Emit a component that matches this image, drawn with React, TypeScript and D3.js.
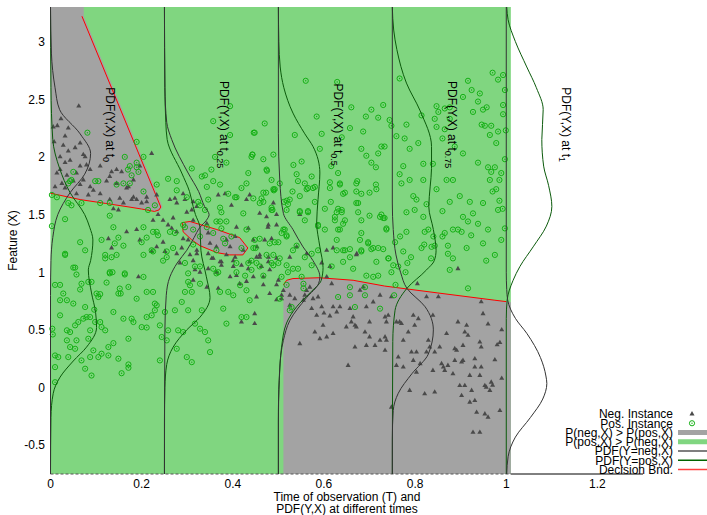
import React, { useEffect, useRef } from 'react';
import * as d3 from 'd3';

const TIMES = [0, 0.25, 0.5, 0.75, 1];
const TIME_LABELS = ['0', '0.25', '0.5', '0.75', '1'];
const X_TICKS = [0, 0.2, 0.4, 0.6, 0.8, 1, 1.2];
const Y_TICKS = [-0.5, 0, 0.5, 1, 1.5, 2, 2.5, 3];

// PDF curves: [feature, density] for every observation time
const PDF_NEG = [
  [[3.3, 0], [2.9, 0.002], [2.6, 0.01], [2.41, 0.02], [2.2, 0.065], [2.03, 0.088], [1.85, 0.075], [1.69, 0.043], [1.5, 0.016], [1.3, 0.005], [1.1, 0.001], [0.8, 0], [-0.75, 0]],
  [[3.3, 0], [2.6, 0.001], [2.3, 0.005], [2.15, 0.016], [1.86, 0.052], [1.7, 0.075], [1.57, 0.088], [1.5, 0.098], [1.45, 0.092], [1.39, 0.078], [1.3, 0.065], [1.19, 0.049], [1.08, 0.028], [0.96, 0.012], [0.8, 0.004], [0.5, 0.001], [-0.75, 0]],
  [[3.3, 0], [2.2, 0], [1.8, 0.003], [1.51, 0.011], [1.37, 0.032], [1.22, 0.054], [1.1, 0.076], [0.96, 0.091], [0.9, 0.088], [0.78, 0.062], [0.58, 0.025], [0.41, 0.011], [0.17, 0.003], [-0.2, 0], [-0.75, 0]],
  [[3.3, 0], [1.6, 0], [1.37, 0.002], [1.15, 0.008], [1.0, 0.018], [0.86, 0.032], [0.7, 0.072], [0.5, 0.09], [0.29, 0.079], [0.12, 0.043], [-0.05, 0.013], [-0.2, 0.002], [-0.45, 0], [-0.75, 0]],
  [[3.3, 0], [1.0, 0], [0.85, 0.001], [0.76, 0.003], [0.6, 0.02], [0.47, 0.045], [0.26, 0.075], [0.1, 0.087], [0.035, 0.089], [-0.1, 0.08], [-0.26, 0.053], [-0.43, 0.02], [-0.6, 0.004], [-0.75, 0.001]],
];
const PDF_POS = [
  [[3.3, 0], [2.6, 0.001], [2.15, 0.005], [1.9, 0.02], [1.69, 0.043], [1.5, 0.075], [1.39, 0.086], [1.28, 0.093], [1.1, 0.088], [1.02, 0.083], [0.82, 0.09], [0.65, 0.099], [0.52, 0.101], [0.35, 0.079], [0.23, 0.05], [0.09, 0.021], [-0.05, 0.006], [-0.26, 0.001], [-0.75, 0]],
  [[3.3, 0], [2.6, 0.001], [2.3, 0.003], [2.15, 0.006], [1.86, 0.038], [1.7, 0.055], [1.57, 0.063], [1.5, 0.068], [1.39, 0.078], [1.19, 0.08], [0.96, 0.092], [0.78, 0.1], [0.61, 0.078], [0.5, 0.049], [0.35, 0.019], [0.2, 0.005], [0, 0.001], [-0.3, 0], [-0.75, 0]],
  [[3.3, 0], [3.0, 0.001], [2.78, 0.004], [2.6, 0.012], [2.38, 0.032], [2.2, 0.058], [2.09, 0.076], [1.86, 0.091], [1.63, 0.087], [1.43, 0.084], [1.22, 0.091], [1.04, 0.098], [0.93, 0.094], [0.82, 0.069], [0.7, 0.04], [0.56, 0.018], [0.35, 0.007], [0.06, 0.002], [-0.3, 0], [-0.75, 0]],
  [[3.3, 0], [3.1, 0.003], [2.93, 0.01], [2.64, 0.031], [2.4, 0.061], [2.09, 0.086], [1.9, 0.086], [1.74, 0.083], [1.57, 0.08], [1.37, 0.09], [1.19, 0.096], [1.1, 0.092], [1.02, 0.075], [0.86, 0.032], [0.67, 0.006], [0.4, 0.001], [-0.75, 0]],
  [[3.3, 0.001], [3.19, 0.004], [3.0, 0.02], [2.78, 0.045], [2.6, 0.066], [2.41, 0.081], [2.15, 0.078], [1.92, 0.082], [1.75, 0.093], [1.57, 0.1], [1.4, 0.088], [1.22, 0.059], [1.05, 0.03], [0.93, 0.015], [0.76, 0.002], [0.6, 0], [-0.75, 0]],
];

// classification regions and decision boundaries, [time, feature]
const GRAY_TOP = [[0, 3.3], [0.073, 3.3], [0.073, 3.22], [0.246, 1.565], [0.238, 1.525], [0.2, 1.548], [0.17, 1.567], [0.12, 1.597], [0.065, 1.63], [0, 1.685]];
const GRAY_MID = [[0.289, 1.43], [0.291, 1.35], [0.31, 1.28], [0.328, 1.23], [0.365, 1.17], [0.393, 1.15], [0.422, 1.15], [0.433, 1.21], [0.415, 1.3], [0.365, 1.37], [0.306, 1.44]];
const GRAY_LOW = [[0.511, -0.75], [0.511, 0.89], [0.518, 0.93], [0.532, 0.945], [0.59, 0.952], [0.664, 0.93], [0.733, 0.88], [0.85, 0.82], [0.975, 0.757], [1.0, 0.745], [1.01, 0.74], [1.01, -0.75]];
const BND_TOP = [[0, 1.685], [0.065, 1.63], [0.12, 1.597], [0.17, 1.567], [0.2, 1.548], [0.228, 1.527], [0.238, 1.54], [0.242, 1.565], [0.069, 3.22]];
const BND_MID = [[0.289, 1.43], [0.291, 1.35], [0.31, 1.28], [0.328, 1.23], [0.365, 1.17], [0.393, 1.15], [0.422, 1.15], [0.433, 1.21], [0.415, 1.3], [0.365, 1.37], [0.306, 1.44], [0.289, 1.43]];
const BND_LOW = [[0.511, 0.89], [0.518, 0.93], [0.532, 0.945], [0.59, 0.952], [0.664, 0.93], [0.733, 0.88], [0.85, 0.82], [0.975, 0.757], [1.0, 0.745]];

const NEG_POINTS = [
  [0.028, 2.10], [0.054, 2.08], [0.072, 2.02], [0.021, 2.0], [0.043, 1.97], [0.032, 1.95], [0.065, 1.92], [0.079, 1.93], [0.021, 1.89], [0.014, 1.86], [0.036, 1.84], [0.057, 1.86], [0.087, 1.89], [0.072, 1.80], [0.05, 1.79], [0.065, 1.76], [0.087, 1.74], [0.094, 1.71], [0.109, 1.68], [0.083, 1.67], [0.025, 1.77], [0.032, 1.73], [0.01, 1.74], [0.057, 1.68], [0.109, 1.92], [0.134, 1.87], [0.145, 1.89], [0.156, 1.87], [0.13, 1.83], [0.123, 1.79], [0.145, 1.77], [0.167, 1.73], [0.182, 1.65], [0.152, 1.64], [0.13, 1.63], [0.16, 1.6], [0.189, 1.63], [0.2, 1.6], [0.211, 1.61], [0.138, 1.55], [0.149, 1.54], [0.167, 1.35], [0.189, 1.37], [0.196, 1.28], [0.127, 1.29], [0.134, 1.21], [0.062, 2.44], [0.023, 2.33], [0.006, 2.26], [0.015, 2.27], [0.039, 2.25], [0.032, 2.18], [0.008, 2.13], [0.065, 2.12], [0.076, 2.0], [0.039, 2.05], [0.222, 2.03], [0.196, 1.92], [0.182, 1.8], [0.171, 1.74], [0.211, 1.65], [0.178, 1.63], [0.233, 1.67],
  [0.262, 1.63], [0.273, 1.64], [0.277, 1.60], [0.291, 1.68], [0.295, 1.63], [0.313, 1.61], [0.321, 1.57], [0.31, 1.54], [0.299, 1.52], [0.368, 1.67], [0.383, 1.68], [0.397, 1.58], [0.43, 1.63], [0.437, 1.67], [0.489, 1.6], [0.474, 1.48], [0.236, 1.5], [0.225, 1.45], [0.247, 1.45], [0.269, 1.47], [0.258, 1.41], [0.266, 1.38], [0.277, 1.35], [0.291, 1.29], [0.302, 1.28], [0.247, 1.26], [0.233, 1.22], [0.222, 1.18], [0.251, 1.18], [0.277, 1.16], [0.288, 1.21], [0.306, 1.15], [0.321, 1.19], [0.346, 1.16], [0.354, 1.12], [0.375, 1.09], [0.386, 1.15], [0.405, 1.13], [0.437, 1.09], [0.452, 1.13], [0.459, 1.15], [0.478, 1.13], [0.496, 1.12], [0.317, 1.02], [0.328, 1.0], [0.346, 1.03], [0.364, 1.0], [0.401, 1.05], [0.419, 1.06], [0.434, 1.03], [0.463, 1.05], [0.478, 1.09], [0.481, 1.02], [0.394, 0.96], [0.375, 1.06], [0.313, 1.1], [0.284, 1.08], [0.434, 1.38], [0.478, 1.41], [0.445, 1.28], [0.313, 1.45], [0.343, 1.42], [0.346, 1.34], [0.408, 1.39], [0.386, 1.28], [0.35, 1.25], [0.364, 1.22], [0.394, 1.22], [0.405, 1.31], [0.423, 1.19],
  [0.193, 0.96], [0.321, 1.16], [0.357, 1.12], [0.372, 1.09], [0.401, 1.10], [0.408, 0.97], [0.445, 0.96], [0.467, 0.96], [0.43, 0.92], [0.467, 0.89], [0.496, 0.89], [0.452, 0.785], [0.481, 0.815], [0.507, 0.8], [0.448, 0.64], [0.419, 0.568], [0.448, 0.554], [0.368, 0.86], [0.343, 0.87], [0.313, 0.93], [0.415, 0.9],
  [0.459, 1.51], [0.477, 1.39], [0.496, 1.5], [0.547, 1.5], [0.47, 1.28], [0.453, 1.22], [0.459, 1.13], [0.525, 1.13], [0.606, 1.19], [0.62, 1.21], [0.672, 1.16],
  [0.496, 1.41], [0.485, 1.29], [0.54, 1.22], [0.562, 1.16], [0.671, 1.15], [0.613, 1.05], [0.595, 1.08], [0.606, 0.96], [0.617, 0.90], [0.5, 0.93], [0.511, 0.84], [0.507, 0.77], [0.525, 0.80], [0.536, 0.77], [0.562, 0.84], [0.569, 0.87], [0.558, 0.80], [0.576, 0.77], [0.587, 0.785], [0.555, 0.757], [0.496, 0.76], [0.525, 0.713], [0.595, 0.70], [0.573, 0.684], [0.62, 0.70], [0.635, 0.70], [0.657, 0.684], [0.628, 0.655], [0.679, 0.843], [0.686, 0.872], [0.723, 0.80], [0.708, 0.742], [0.693, 0.70], [0.584, 0.626], [0.6, 0.645], [0.613, 0.62], [0.664, 0.612], [0.649, 0.525], [0.66, 0.568], [0.668, 0.539], [0.7, 0.568], [0.734, 0.612], [0.737, 0.568], [0.598, 0.539], [0.58, 0.481], [0.62, 0.467], [0.591, 0.423], [0.606, 0.438], [0.69, 0.481], [0.7, 0.438], [0.712, 0.365], [0.723, 0.409], [0.734, 0.438], [0.671, 0.525], [0.547, 0.38], [0.668, 0.351], [0.693, 0.365], [0.734, 0.322], [0.653, 0.191],
  [0.894, 1.03], [0.805, 0.90], [0.748, 0.786], [0.825, 0.786], [0.851, 0.786], [0.945, 0.743], [0.949, 0.64], [0.741, 0.626], [0.759, 0.568], [0.766, 0.568], [0.770, 0.554], [0.796, 0.626], [0.807, 0.597], [0.799, 0.539], [0.839, 0.626], [0.894, 0.568], [0.913, 0.539], [0.909, 0.481], [0.916, 0.452], [0.785, 0.481], [0.869, 0.467], [0.737, 0.409], [0.774, 0.409], [0.829, 0.409], [0.832, 0.351], [0.825, 0.307], [0.843, 0.307], [0.854, 0.351], [0.887, 0.336], [0.891, 0.322], [0.905, 0.365], [0.942, 0.394], [0.945, 0.351], [0.763, 0.264], [0.792, 0.307], [0.803, 0.307], [0.796, 0.235], [0.811, 0.206], [0.759, 0.191], [0.774, 0.177], [0.858, 0.206], [0.862, 0.177], [0.872, 0.191], [0.865, 0.148], [0.887, 0.235], [0.902, 0.220], [0.905, 0.235], [0.931, 0.249], [0.931, 0.177], [0.945, 0.177], [0.839, 0.148], [0.803, 0.133], [0.883, 0.119], [0.92, 0.104], [0.942, 0.104], [0.788, -0.026], [0.821, -0.055], [0.843, -0.04], [0.898, 0.017], [0.909, 0.017], [0.924, -0.026], [0.953, 0.017], [0.956, 0.003], [0.967, 0.046], [0.964, -0.026], [0.902, -0.07], [0.92, -0.128], [0.931, -0.113], [0.935, -0.215], [0.953, -0.229], [0.96, -0.258], [0.748, -0.171], [0.927, -0.389], [0.942, -0.389],
  [0.99, 0.08], [0.986, -0.2], [0.97, 0.02], [0.975, 0.24], [0.98, 0.37], [0.99, 0.5], [0.986, 0.39], [0.96, 0.55],
];

const POS_POINTS = [
  [0.032, 1.16], [0.054, 1.04], [0.057, 0.98], [0.01, 0.89], [0.021, 0.89], [0.028, 0.815], [0.021, 0.757], [0.036, 0.757], [0.05, 0.728], [0.065, 0.85], [0.068, 0.90], [0.09, 0.916], [0.083, 0.916], [0.101, 0.815], [0.105, 0.785], [0.109, 0.81], [0.123, 0.91], [0.13, 0.99], [0.136, 1.0], [0.163, 0.98], [0.171, 0.872], [0.152, 0.858], [0.149, 0.815], [0.154, 0.815], [0.189, 0.77], [0.204, 0.959], [0.211, 0.829], [0.225, 0.829], [0.229, 0.728], [0.233, 0.713], [0.021, 0.626], [0.036, 0.496], [0.043, 0.481], [0.054, 0.539], [0.057, 0.409], [0.061, 0.568], [0.072, 0.597], [0.076, 0.698], [0.079, 0.611], [0.087, 0.611], [0.096, 0.675], [0.087, 0.496], [0.083, 0.423], [0.098, 0.568], [0.109, 0.568], [0.112, 0.524], [0.12, 0.496], [0.138, 0.655], [0.16, 0.597], [0.171, 0.423], [0.178, 0.597], [0.182, 0.568], [0.2, 0.524], [0.211, 0.611], [0.211, 0.52], [0.222, 0.626], [0.229, 0.67], [0.24, 0.539], [0.01, 0.278], [0.017, 0.264], [0.036, 0.409], [0.039, 0.264], [0.043, 0.351], [0.054, 0.336], [0.068, 0.235], [0.076, 0.163], [0.087, 0.264], [0.094, 0.322], [0.105, 0.264], [0.112, 0.293], [0.127, 0.351], [0.127, 0.278], [0.138, 0.385], [0.149, 0.25], [0.171, 0.2], [0.171, 0.171], [0.156, 0.124], [0.09, 0.104], [0.01, 0.177], [0.01, 0.046], [0.004, 0.51], [0.005, 0.46], [0.244, 0.438], [0.24, 0.235], [0.251, 0.655], [0.255, 0.409], [0.258, 0.496], [0.277, 0.336], [0.273, 0.67], [0.28, 0.496], [0.288, 0.742], [0.291, 0.481], [0.295, 0.829], [0.302, 0.916], [0.306, 0.887], [0.31, 0.829], [0.302, 0.67], [0.317, 0.554], [0.328, 0.90], [0.332, 0.67], [0.328, 0.51], [0.339, 0.481], [0.346, 0.409], [0.35, 0.307], [0.299, 0.264], [0.31, 0.22], [0.357, 1.03], [0.368, 1.0], [0.372, 0.829], [0.379, 0.684], [0.39, 0.829], [0.401, 0.8], [0.416, 0.887], [0.419, 0.611], [0.43, 0.611], [0.437, 0.757], [0.43, 0.843], [0.386, 0.554], [0.441, 1.02], [0.459, 1.05], [0.474, 1.15], [0.489, 1.06], [0.5, 1.08], [0.518, 1.06], [0.529, 0.698], [0.328, 1.05], [0.295, 1.08], [0.255, 1.18], [0.225, 1.18], [0.204, 1.15], [0.145, 1.15], [0.12, 1.15],
  [0.189, 2.13], [0.163, 2.0], [0.174, 1.92], [0.189, 1.91], [0.193, 1.87], [0.178, 1.84], [0.05, 1.87], [0.046, 1.80], [0.039, 1.77], [0.098, 1.79], [0.105, 1.79], [0.145, 1.76], [0.16, 1.77], [0.174, 1.77], [0.204, 1.70], [0.003, 1.67], [0.014, 1.65], [0.039, 1.60], [0.046, 1.58], [0.068, 1.60], [0.109, 1.60], [0.13, 1.60], [0.214, 1.54], [0.032, 1.46], [0.13, 1.49], [0.003, 1.40], [0.065, 1.26], [0.138, 1.39], [0.149, 1.30], [0.16, 1.23], [0.141, 1.25], [0.032, 1.15], [0.076, 1.19], [0.12, 1.12], [0.134, 1.13], [0.112, 1.28], [0.05, 1.04], [0.13, 1.00], [0.163, 0.99], [0.204, 1.39], [0.211, 1.30], [0.2, 1.26],
  [0.081, 2.21], [0.189, 1.95], [0.204, 2.0], [0.17, 1.89], [0.043, 1.79],
  [0.394, 2.44], [0.357, 2.31], [0.394, 2.19], [0.386, 1.95], [0.353, 1.89], [0.332, 1.83], [0.299, 1.65], [0.343, 1.74], [0.357, 1.79], [0.372, 1.76], [0.39, 1.68], [0.405, 1.65], [0.419, 1.73], [0.43, 1.77], [0.445, 1.64], [0.434, 1.86], [0.441, 2.0], [0.448, 2.21], [0.346, 1.63], [0.328, 1.58], [0.277, 1.71], [0.295, 1.39], [0.313, 1.37], [0.343, 1.39], [0.372, 1.44], [0.386, 1.44], [0.357, 1.34], [0.397, 1.31], [0.43, 1.37], [0.448, 1.28], [0.445, 1.21], [0.269, 1.21], [0.236, 1.32], [0.222, 1.19], [0.255, 1.13],
  [0.443, 2.02], [0.467, 1.98], [0.475, 1.88], [0.473, 1.69], [0.49, 1.71], [0.459, 1.6], [0.467, 1.61], [0.485, 1.54], [0.408, 1.65], [0.423, 1.51], [0.459, 1.29], [0.481, 1.25], [0.5, 1.26], [0.45, 1.21], [0.441, 1.10], [0.408, 1.08], [0.364, 0.99], [0.427, 0.97], [0.467, 0.97], [0.489, 1.15], [0.379, 1.29], [0.383, 1.25], [0.419, 1.21], [0.364, 1.19], [0.328, 1.31], [0.313, 1.24], [0.247, 1.10], [0.225, 1.35], [0.233, 1.35], [0.262, 1.35], [0.273, 1.34], [0.291, 1.41], [0.229, 1.58], [0.258, 1.81], [0.233, 1.76], [0.277, 1.79], [0.31, 1.90], [0.339, 1.84], [0.361, 2.0], [0.324, 1.61], [0.339, 1.54], [0.372, 1.56], [0.375, 1.52], [0.364, 1.44], [0.375, 1.38], [0.317, 1.05], [0.302, 0.99], [0.408, 1.0], [0.452, 1.08], [0.434, 1.08],
  [0.56, 2.66], [0.629, 2.65], [0.66, 2.43], [0.584, 2.35], [0.595, 2.20], [0.591, 2.07], [0.616, 1.92], [0.631, 1.86], [0.657, 2.25], [0.639, 2.17], [0.536, 2.19], [0.533, 1.93], [0.551, 1.96], [0.47, 2.29], [0.446, 2.21], [0.443, 2.02], [0.489, 2.02], [0.474, 1.89], [0.485, 1.80], [0.467, 1.69], [0.492, 1.72], [0.503, 1.77], [0.463, 1.64], [0.485, 1.56], [0.518, 1.62], [0.525, 1.63], [0.511, 1.37], [0.518, 1.31], [0.54, 1.85], [0.558, 1.77], [0.573, 1.83], [0.547, 1.66], [0.562, 1.72], [0.58, 1.74], [0.565, 1.53], [0.547, 1.53], [0.558, 1.45], [0.587, 1.40], [0.602, 1.55], [0.613, 1.73], [0.635, 1.76], [0.642, 1.68], [0.631, 1.55], [0.639, 1.52], [0.671, 1.77], [0.675, 1.60], [0.646, 1.45], [0.624, 1.45], [0.631, 1.37], [0.628, 1.28], [0.642, 1.19], [0.657, 1.20], [0.679, 1.28], [0.697, 1.25], [0.682, 1.19], [0.704, 1.20], [0.73, 1.20], [0.726, 1.50], [0.73, 1.47], [0.737, 1.37], [0.714, 1.91], [0.719, 2.03], [0.726, 2.09], [0.682, 2.07], [0.693, 2.01], [0.704, 1.95], [0.692, 2.35], [0.704, 2.41], [0.719, 2.34], [0.73, 2.45], [0.748, 2.27], [0.733, 2.09], [0.715, 1.72], [0.7, 1.69], [0.671, 1.70], [0.766, 2.68], [0.814, 2.36], [0.781, 2.28], [0.759, 2.18], [0.777, 2.16], [0.788, 2.07], [0.774, 1.92], [0.766, 1.85], [0.77, 1.77], [0.788, 1.80], [0.818, 1.94], [0.807, 2.12], [0.847, 2.44], [0.851, 2.39], [0.843, 2.33], [0.847, 2.26], [0.865, 2.24], [0.876, 2.33], [0.86, 2.16], [0.887, 2.09], [0.905, 2.03], [0.869, 1.80], [0.883, 1.80], [0.898, 1.66], [0.876, 1.61], [0.86, 1.53], [0.847, 1.72], [0.818, 1.80], [0.825, 1.59], [0.796, 1.66], [0.803, 1.63], [0.781, 1.52], [0.799, 1.54], [0.818, 1.48], [0.821, 1.35], [0.836, 1.22], [0.86, 1.31], [0.883, 1.37], [0.894, 1.37], [0.905, 1.48], [0.92, 1.61], [0.927, 1.51], [0.949, 1.60], [0.916, 1.44], [0.938, 1.42], [0.96, 1.37], [0.982, 1.54], [0.985, 1.62], [0.97, 1.70], [0.978, 1.72], [0.964, 1.80], [0.985, 1.80], [0.967, 1.87], [0.975, 1.91], [0.96, 1.91], [0.938, 1.95], [0.978, 2.12], [0.964, 2.19], [0.982, 2.22], [0.967, 2.27], [0.953, 2.27], [0.946, 2.28], [0.957, 2.43], [0.949, 2.41], [0.938, 2.48], [0.942, 2.55], [0.924, 2.58], [0.927, 2.39], [0.905, 2.52], [0.916, 2.66], [0.97, 2.73], [0.982, 2.67], [0.876, 2.43], [0.839, 1.94], [0.865, 2.42], [0.686, 2.22], [0.744, 2.32],
  [0.489, 1.72], [0.531, 1.70], [0.543, 1.79], [0.565, 1.73], [0.576, 1.73], [0.613, 1.78], [0.635, 1.77], [0.646, 1.69], [0.673, 1.79], [0.714, 1.76], [0.682, 1.68], [0.512, 1.61], [0.521, 1.59], [0.518, 1.54], [0.487, 1.54], [0.547, 1.52], [0.565, 1.52], [0.58, 1.61], [0.615, 1.61], [0.628, 1.52], [0.639, 1.54], [0.624, 1.48], [0.671, 1.60], [0.675, 1.52], [0.7, 1.49], [0.723, 1.48], [0.733, 1.47], [0.682, 1.45], [0.587, 1.41], [0.602, 1.37], [0.642, 1.42], [0.635, 1.37], [0.682, 1.34], [0.737, 1.38], [0.514, 1.37], [0.507, 1.34], [0.518, 1.32], [0.492, 1.26], [0.54, 1.23], [0.532, 1.19], [0.558, 1.13], [0.573, 1.16], [0.587, 1.19], [0.628, 1.19], [0.646, 1.19], [0.657, 1.13], [0.642, 1.09], [0.697, 1.26], [0.708, 1.21], [0.719, 1.21], [0.682, 1.18], [0.715, 1.09], [0.741, 1.12], [0.485, 1.08], [0.503, 1.12], [0.532, 1.03], [0.543, 1.03], [0.521, 1.0], [0.573, 1.06], [0.617, 1.05], [0.664, 1.03], [0.693, 0.97], [0.708, 0.96], [0.719, 0.97], [0.551, 0.96], [0.507, 0.96], [0.555, 0.90], [0.555, 0.86], [0.518, 0.89], [0.503, 0.77], [0.657, 0.87], [0.657, 0.80], [0.631, 0.785], [0.668, 0.698], [0.69, 0.87], [0.69, 0.80], [0.723, 0.684], [0.525, 0.67],
  [0.767, 1.31], [0.781, 1.35], [0.756, 1.26], [0.829, 1.37], [0.84, 1.31], [0.865, 1.34], [0.902, 1.35], [0.923, 1.32], [0.872, 1.23], [0.913, 1.21], [0.949, 1.25], [0.975, 1.15], [0.956, 1.1], [0.872, 1.16], [0.883, 1.12], [0.876, 1.02], [0.916, 0.86], [0.82, 1.24], [0.814, 1.21], [0.843, 1.23], [0.774, 1.18], [0.791, 1.13], [0.742, 1.12], [0.752, 1.06], [0.763, 1.05], [0.783, 1.08], [0.748, 1.0], [0.779, 1.0], [0.835, 1.12], [0.757, 0.89], [0.754, 0.80],
  [0.993, 2.71], [0.997, 2.58], [0.993, 2.45], [0.993, 2.37], [0.999, 2.23], [0.997, 1.98], [0.989, 1.86], [0.992, 1.55], [0.997, 1.38], [0.989, 1.28],
];

const LEGEND = ['Neg. Instance', 'Pos. Instance', 'P(neg,X) > P(pos,X)', 'P(pos,X) > P(neg,X)', 'PDF(Y=neg,X)', 'PDF(Y=pos,X)', 'Decision Bnd.'];

const GREEN_BG = '#80d680';
const GRAY_BG = '#a3a3a3';
const NEG_COLOR = '#4a4a4a';
const POS_COLOR = '#14b014';
const NEG_LINE = '#333333';
const POS_LINE = '#0b5a0b';
const FONT = '"Liberation Sans", Arial, sans-serif';

export default function App() {
  const ref = useRef<SVGSVGElement>(null);

  useEffect(() => {
    const svg = d3.select(ref.current);
    svg.selectAll('*').remove();

    const x = d3.scaleLinear().domain([0, 1.3]).range([50.5, 643]);
    const y = d3.scaleLinear().domain([-0.75, 3.3]).range([474, 7]);
    const poly = d3.line<number[]>().x(d => x(d[0])).y(d => y(d[1]));

    // regions
    svg.append('rect')
      .attr('x', x(0)).attr('y', y(3.3))
      .attr('width', x(1.01) - x(0)).attr('height', y(-0.75) - y(3.3))
      .attr('fill', GREEN_BG);
    [GRAY_TOP, GRAY_MID, GRAY_LOW].forEach(g => {
      svg.append('path').attr('d', poly(g) + 'Z').attr('fill', GRAY_BG);
    });

    // bottom border
    svg.append('line')
      .attr('x1', x(0)).attr('x2', x(1.01)).attr('y1', 474).attr('y2', 474)
      .attr('stroke', '#555').attr('stroke-dasharray', '3,2');
    svg.append('line')
      .attr('x1', x(1.01)).attr('x2', x(1.3)).attr('y1', 474).attr('y2', 474)
      .attr('stroke', '#000');

    // decision boundaries
    [BND_TOP, BND_MID, BND_LOW].forEach(b => {
      svg.append('path').attr('d', poly(b)).attr('fill', 'none')
        .attr('stroke', '#ff0000').attr('stroke-width', 1);
    });

    // instances
    const tri = d3.symbol().type(d3.symbolTriangle).size(11);
    svg.append('g').selectAll('path').data(NEG_POINTS).enter().append('path')
      .attr('d', tri())
      .attr('transform', d => `translate(${x(d[0])},${y(d[1])})`)
      .attr('fill', NEG_COLOR);
    const pos = svg.append('g').selectAll('g').data(POS_POINTS).enter().append('g')
      .attr('transform', d => `translate(${x(d[0])},${y(d[1])})`);
    pos.append('circle').attr('r', 2.6).attr('fill', 'none').attr('stroke', POS_COLOR).attr('stroke-width', 1);
    pos.append('circle').attr('r', 0.7).attr('fill', POS_COLOR);

    // pdf curves
    TIMES.forEach((t, i) => {
      const curve = d3.line<number[]>()
        .x(d => x(t + d[1])).y(d => y(d[0]))
        .curve(d3.curveMonotoneY);
      svg.append('path').attr('d', curve(PDF_POS[i])).attr('fill', 'none')
        .attr('stroke', POS_LINE).attr('stroke-width', 1);
      svg.append('path').attr('d', curve(PDF_NEG[i])).attr('fill', 'none')
        .attr('stroke', NEG_LINE).attr('stroke-width', 1);

      const lbl = svg.append('text')
        .attr('transform', `translate(${x(t + 0.122)},${y(2.28)}) rotate(90)`)
        .attr('text-anchor', 'middle')
        .attr('font-family', FONT).attr('font-size', 12).attr('fill', '#000');
      lbl.append('tspan').text('PDF(Y,X) at t');
      lbl.append('tspan').attr('dy', 3).attr('font-size', 9).text(TIME_LABELS[i]);
    });

    // axes text
    const txt = svg.append('g').attr('font-family', FONT).attr('font-size', 12).attr('fill', '#000');
    X_TICKS.forEach(v => {
      txt.append('text').attr('x', x(v)).attr('y', 488).attr('text-anchor', 'middle').text(String(v));
    });
    Y_TICKS.forEach(v => {
      txt.append('text').attr('x', 45).attr('y', y(v) + 4.3).attr('text-anchor', 'end').text(String(v));
    });
    txt.append('text').attr('x', 347).attr('y', 501).attr('text-anchor', 'middle').text('Time of observation (T) and');
    txt.append('text').attr('x', 347).attr('y', 513).attr('text-anchor', 'middle').text('PDF(Y,X) at different times');
    txt.append('text').attr('transform', 'translate(17,240.5) rotate(-90)').attr('text-anchor', 'middle').text('Feature (X)');

    // legend
    LEGEND.forEach((name, i) => {
      const cy = 414 + i * 9.25;
      txt.append('text').attr('x', 673).attr('y', cy + 4.3).attr('text-anchor', 'end').text(name);
      if (i === 0) {
        svg.append('path').attr('d', tri()).attr('transform', `translate(692,${cy})`).attr('fill', NEG_COLOR);
      } else if (i === 1) {
        svg.append('circle').attr('cx', 692).attr('cy', cy).attr('r', 2.6).attr('fill', 'none').attr('stroke', POS_COLOR);
        svg.append('circle').attr('cx', 692).attr('cy', cy).attr('r', 0.7).attr('fill', POS_COLOR);
      } else if (i === 2 || i === 3) {
        svg.append('rect').attr('x', 678).attr('y', cy - 2.5).attr('width', 29).attr('height', 5)
          .attr('fill', i === 2 ? GRAY_BG : GREEN_BG);
      } else {
        const col = i === 4 ? '#555' : i === 5 ? '#006400' : '#ff4040';
        svg.append('line').attr('x1', 678).attr('x2', 707).attr('y1', cy).attr('y2', cy)
          .attr('stroke', col).attr('stroke-width', 1.5);
      }
    });
  }, []);

  return (
    <svg ref={ref} width={707} height={515}
      style={{ position: 'absolute', left: 0, top: 0, background: '#fff' }} />
  );
}
